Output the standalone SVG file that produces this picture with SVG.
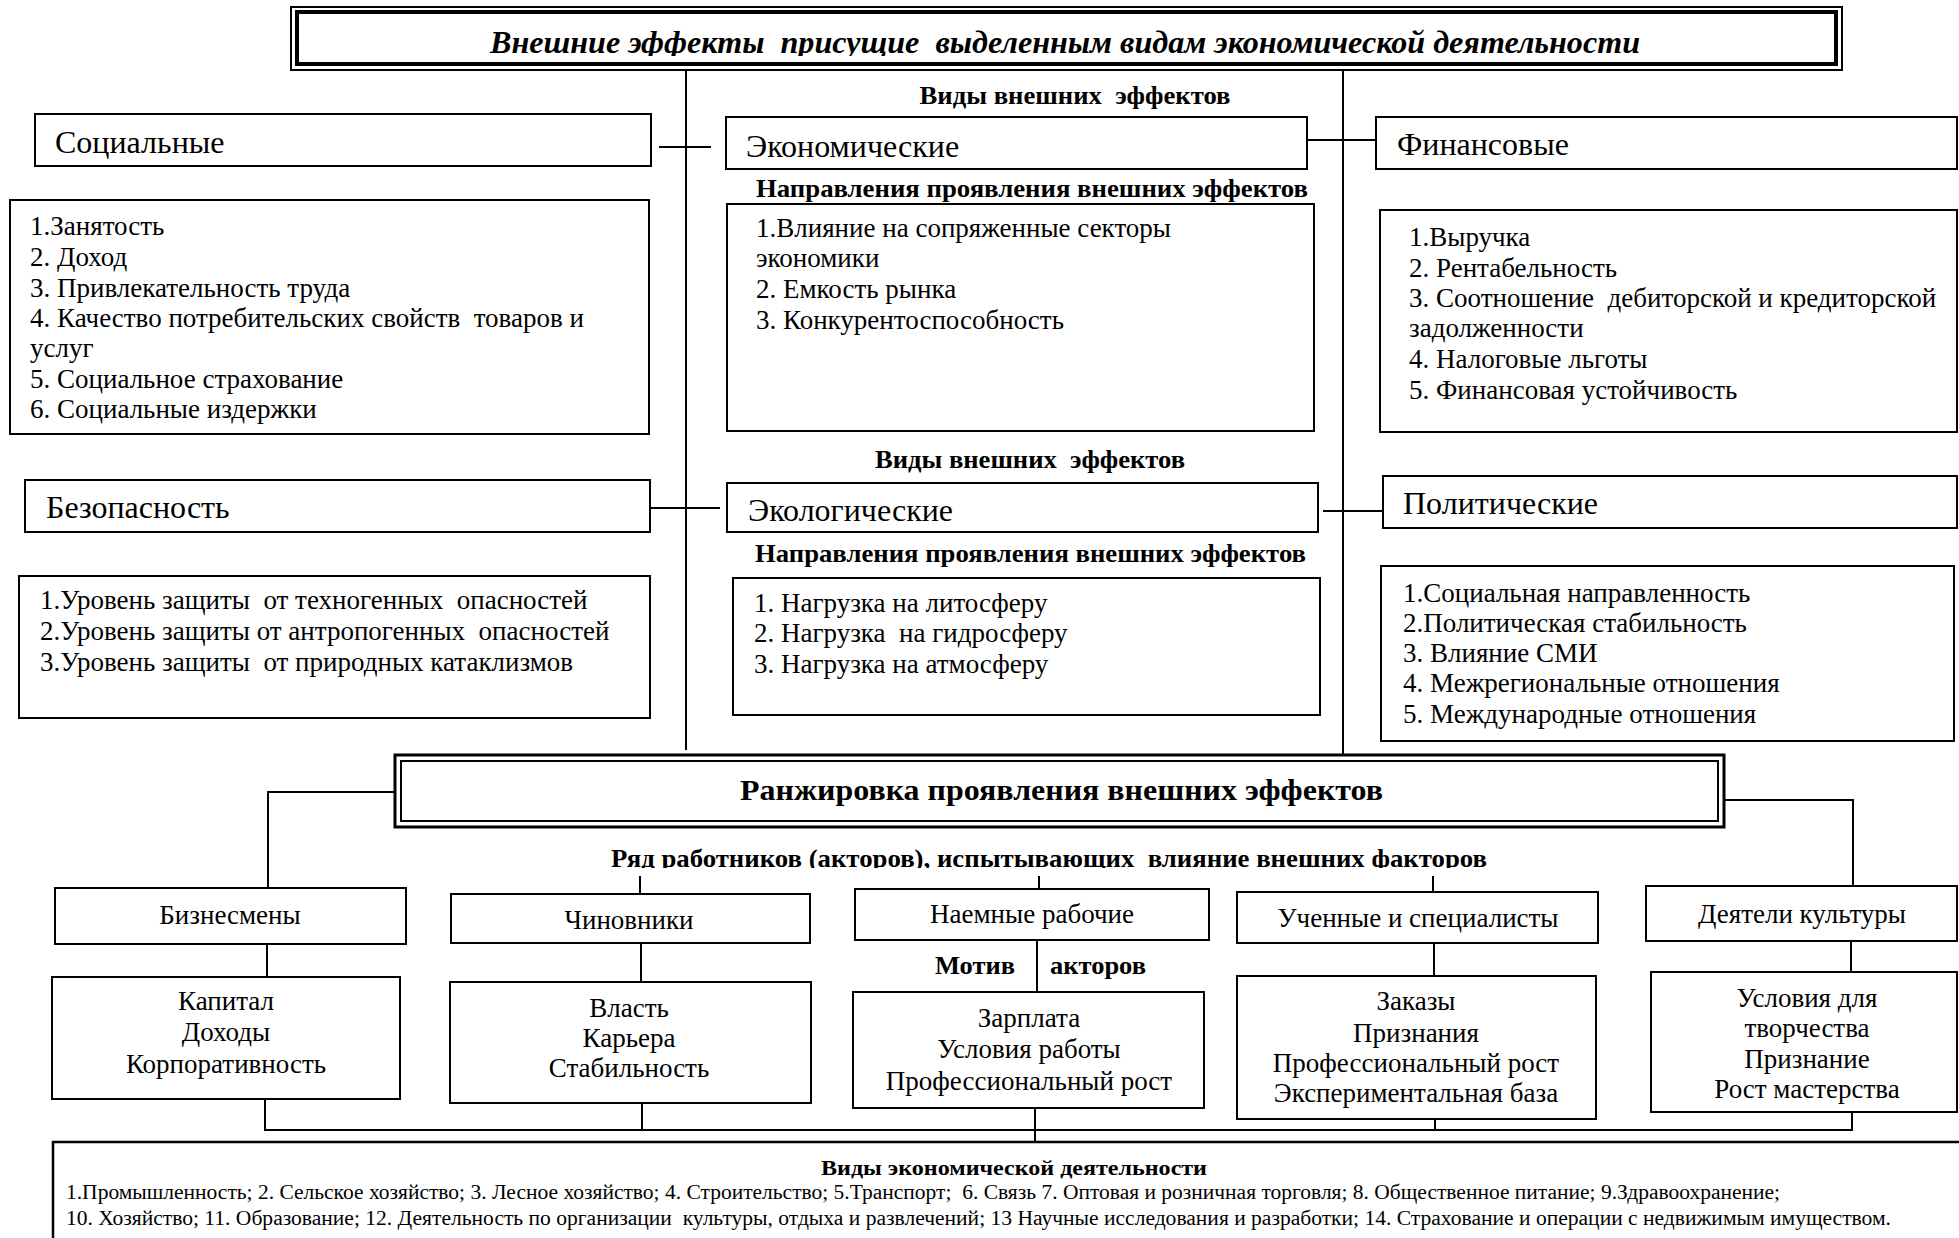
<svg xmlns="http://www.w3.org/2000/svg" width="1959" height="1238" viewBox="0 0 1959 1238" xml:space="preserve">
  <style>
    .box { fill: #fff; stroke: #000; stroke-width: 2; }
    .ln { fill: none; stroke: #000; stroke-width: 2; }
    text { font-family: "Liberation Serif", "Times New Roman", serif; fill: #000; white-space: pre; }
    .t { font-size: 27px; }
    .h { font-size: 32px; }
    .c { text-anchor: middle; }
    .b { font-weight: bold; font-size: 26px; }
  </style>
  <defs>
    <clipPath id="clipTitle"><rect x="291" y="7" width="1551" height="49"/></clipPath>
    <clipPath id="clipActors"><rect x="500" y="830" width="1100" height="38"/></clipPath>
  </defs>
  <rect width="1959" height="1238" fill="#fff"/>

  <!-- connectors -->
  <g id="connectors">
    <line class="ln" x1="686" y1="70" x2="686" y2="750"/>
    <line class="ln" x1="1343" y1="70" x2="1343" y2="756"/>
    <line class="ln" x1="659" y1="147" x2="711" y2="147"/>
    <line class="ln" x1="1308" y1="140" x2="1376" y2="140"/>
    <line class="ln" x1="650" y1="508" x2="720" y2="508"/>
    <line class="ln" x1="1323" y1="511" x2="1383" y2="511"/>
    <polyline class="ln" points="395,792 268,792 268,888"/>
    <polyline class="ln" points="1724,800 1853,800 1853,886"/>
    <line class="ln" x1="640" y1="876" x2="640" y2="894"/>
    <line class="ln" x1="1039" y1="876" x2="1039" y2="889"/>
    <line class="ln" x1="1433" y1="876" x2="1433" y2="892"/>
    <line class="ln" x1="267" y1="944" x2="267" y2="977"/>
    <line class="ln" x1="641" y1="943" x2="641" y2="982"/>
    <line class="ln" x1="1037" y1="940" x2="1037" y2="992"/>
    <line class="ln" x1="1434" y1="943" x2="1434" y2="976"/>
    <line class="ln" x1="1851" y1="941" x2="1851" y2="972"/>
    <line class="ln" x1="265" y1="1099" x2="265" y2="1130"/>
    <line class="ln" x1="642" y1="1103" x2="642" y2="1130"/>
    <line class="ln" x1="1035" y1="1108" x2="1035" y2="1142"/>
    <line class="ln" x1="1435" y1="1119" x2="1435" y2="1130"/>
    <line class="ln" x1="1852" y1="1112" x2="1852" y2="1130"/>
    <line class="ln" x1="264" y1="1130" x2="1853" y2="1130" stroke-width="2.5"/>
  </g>

  <!-- heading -->
  <g id="title">
    <rect x="291" y="7" width="1551" height="63" fill="#fff" stroke="#000" stroke-width="2"/>
    <rect x="297" y="12" width="1539" height="52" fill="none" stroke="#000" stroke-width="4"/>
    <text clip-path="url(#clipTitle)" x="490" y="53" font-size="31" font-weight="bold" font-style="italic" textLength="1150" lengthAdjust="spacingAndGlyphs">Внешние эффекты  присущие  выделенным видам экономической деятельности</text>
  </g>

  <text class="b c" x="1075" y="104" textLength="311" lengthAdjust="spacingAndGlyphs">Виды внешних  эффектов</text>

  <g id="social">
    <rect class="box" x="35" y="114" width="616" height="52"/>
    <text class="h" x="55" y="153">Социальные</text>
  </g>
  <g id="social-list">
    <rect class="box" x="10" y="200" width="639" height="234"/>
    <text class="t" x="30" y="235">1.Занятость</text>
    <text class="t" x="30" y="266">2. Доход</text>
    <text class="t" x="30" y="297">3. Привлекательность труда</text>
    <text class="t" x="30" y="327">4. Качество потребительских свойств  товаров и</text>
    <text class="t" x="30" y="357">услуг</text>
    <text class="t" x="30" y="388">5. Социальное страхование</text>
    <text class="t" x="30" y="418">6. Социальные издержки</text>
  </g>

  <g id="economic">
    <rect class="box" x="726" y="117" width="581" height="52"/>
    <text class="h" x="746" y="157">Экономические</text>
  </g>
  <text class="b" x="756" y="197" textLength="552" lengthAdjust="spacingAndGlyphs">Направления проявления внешних эффектов</text>
  <g id="economic-list">
    <rect class="box" x="727" y="204" width="587" height="227"/>
    <text class="t" x="756" y="237">1.Влияние на сопряженные секторы</text>
    <text class="t" x="756" y="267">экономики</text>
    <text class="t" x="756" y="298">2. Емкость рынка</text>
    <text class="t" x="756" y="329">3. Конкурентоспособность</text>
  </g>

  <g id="financial">
    <rect class="box" x="1376" y="117" width="581" height="52"/>
    <text class="h" x="1397" y="155">Финансовые</text>
  </g>
  <g id="financial-list">
    <rect class="box" x="1380" y="210" width="577" height="222"/>
    <text class="t" x="1409" y="246">1.Выручка</text>
    <text class="t" x="1409" y="277">2. Рентабельность</text>
    <text class="t" x="1409" y="307">3. Соотношение  дебиторской и кредиторской</text>
    <text class="t" x="1409" y="337">задолженности</text>
    <text class="t" x="1409" y="368">4. Налоговые льготы</text>
    <text class="t" x="1409" y="399">5. Финансовая устойчивость</text>
  </g>

  <text class="b c" x="1030" y="468" textLength="310" lengthAdjust="spacingAndGlyphs">Виды внешних  эффектов</text>

  <g id="safety">
    <rect class="box" x="25" y="480" width="625" height="52"/>
    <text class="h" x="46" y="518">Безопасность</text>
  </g>
  <g id="safety-list">
    <rect class="box" x="19" y="576" width="631" height="142"/>
    <text class="t" x="40" y="609">1.Уровень защиты  от техногенных  опасностей</text>
    <text class="t" x="40" y="640">2.Уровень защиты от антропогенных  опасностей</text>
    <text class="t" x="40" y="671">3.Уровень защиты  от природных катаклизмов</text>
  </g>

  <g id="ecological">
    <rect class="box" x="727" y="483" width="591" height="49"/>
    <text class="h" x="748" y="521">Экологические</text>
  </g>
  <text class="b" x="755" y="562" textLength="551" lengthAdjust="spacingAndGlyphs">Направления проявления внешних эффектов</text>
  <g id="ecological-list">
    <rect class="box" x="733" y="578" width="587" height="137"/>
    <text class="t" x="754" y="612">1. Нагрузка на литосферу</text>
    <text class="t" x="754" y="642">2. Нагрузка  на гидросферу</text>
    <text class="t" x="754" y="673">3. Нагрузка на атмосферу</text>
  </g>

  <g id="political">
    <rect class="box" x="1383" y="476" width="574" height="52"/>
    <text class="h" x="1403" y="514">Политические</text>
  </g>
  <g id="political-list">
    <rect class="box" x="1381" y="566" width="573" height="175"/>
    <text class="t" x="1403" y="602">1.Социальная направленность</text>
    <text class="t" x="1403" y="632">2.Политическая стабильность</text>
    <text class="t" x="1403" y="662">3. Влияние СМИ</text>
    <text class="t" x="1403" y="692">4. Межрегиональные отношения</text>
    <text class="t" x="1403" y="723">5. Международные отношения</text>
  </g>

  <g id="ranking">
    <rect x="395" y="755" width="1329" height="72" fill="#fff" stroke="#000" stroke-width="3"/>
    <rect x="401" y="761" width="1317" height="60" fill="none" stroke="#000" stroke-width="2"/>
    <text x="740" y="800" font-size="30" font-weight="bold" textLength="643" lengthAdjust="spacingAndGlyphs">Ранжировка проявления внешних эффектов</text>
  </g>

  <text class="b" clip-path="url(#clipActors)" x="611" y="867" textLength="876" lengthAdjust="spacingAndGlyphs">Ряд работников (акторов), испытывающих  влияние внешних факторов</text>

  <g id="businessmen">
    <rect class="box" x="55" y="888" width="351" height="56"/>
    <text class="t c" x="230" y="924">Бизнесмены</text>
  </g>
  <g id="officials">
    <rect class="box" x="451" y="894" width="359" height="49"/>
    <text class="t c" x="629" y="929">Чиновники</text>
  </g>
  <g id="workers">
    <rect class="box" x="855" y="889" width="354" height="51"/>
    <text class="t c" x="1032" y="923">Наемные рабочие</text>
  </g>
  <g id="scientists">
    <rect class="box" x="1237" y="892" width="361" height="51"/>
    <text class="t c" x="1418" y="927">Ученные и специалисты</text>
  </g>
  <g id="culture">
    <rect class="box" x="1646" y="886" width="311" height="55"/>
    <text class="t c" x="1802" y="923">Деятели культуры</text>
  </g>

  <text class="b" x="935" y="974" textLength="80" lengthAdjust="spacingAndGlyphs">Мотив</text>
  <text class="b" x="1050" y="974" textLength="96" lengthAdjust="spacingAndGlyphs">акторов</text>

  <g id="businessmen-motive">
    <rect class="box" x="52" y="977" width="348" height="122"/>
    <text class="t c" x="226" y="1010">Капитал</text>
    <text class="t c" x="226" y="1041">Доходы</text>
    <text class="t c" x="226" y="1073">Корпоративность</text>
  </g>
  <g id="officials-motive">
    <rect class="box" x="450" y="982" width="361" height="121"/>
    <text class="t c" x="629" y="1017">Власть</text>
    <text class="t c" x="629" y="1047">Карьера</text>
    <text class="t c" x="629" y="1077">Стабильность</text>
  </g>
  <g id="workers-motive">
    <rect class="box" x="853" y="992" width="351" height="116"/>
    <text class="t c" x="1029" y="1027">Зарплата</text>
    <text class="t c" x="1029" y="1058">Условия работы</text>
    <text class="t c" x="1029" y="1090">Профессиональный рост</text>
  </g>
  <g id="scientists-motive">
    <rect class="box" x="1237" y="976" width="359" height="143"/>
    <text class="t c" x="1416" y="1010">Заказы</text>
    <text class="t c" x="1416" y="1042">Признания</text>
    <text class="t c" x="1416" y="1072">Профессиональный рост</text>
    <text class="t c" x="1416" y="1102">Экспериментальная база</text>
  </g>
  <g id="culture-motive">
    <rect class="box" x="1651" y="972" width="306" height="140"/>
    <text class="t c" x="1807" y="1007">Условия для</text>
    <text class="t c" x="1807" y="1037">творчества</text>
    <text class="t c" x="1807" y="1068">Признание</text>
    <text class="t c" x="1807" y="1098">Рост мастерства</text>
  </g>

  <g id="activities">
    <rect x="53" y="1142" width="1920" height="120" fill="#fff" stroke="#000" stroke-width="2.5"/>
    <text x="1014" y="1175" font-size="21" font-weight="bold" text-anchor="middle" textLength="386" lengthAdjust="spacingAndGlyphs">Виды экономической деятельности</text>
    <text x="66" y="1199" font-size="20" textLength="1714" lengthAdjust="spacingAndGlyphs">1.Промышленность; 2. Сельское хозяйство; 3. Лесное хозяйство; 4. Строительство; 5.Транспорт;  6. Связь 7. Оптовая и розничная торговля; 8. Общественное питание; 9.Здравоохранение;</text>
    <text x="66" y="1225" font-size="20" textLength="1825" lengthAdjust="spacingAndGlyphs">10. Хозяйство; 11. Образование; 12. Деятельность по организации  культуры, отдыха и развлечений; 13 Научные исследования и разработки; 14. Страхование и операции с недвижимым имуществом.</text>
  </g>
</svg>
